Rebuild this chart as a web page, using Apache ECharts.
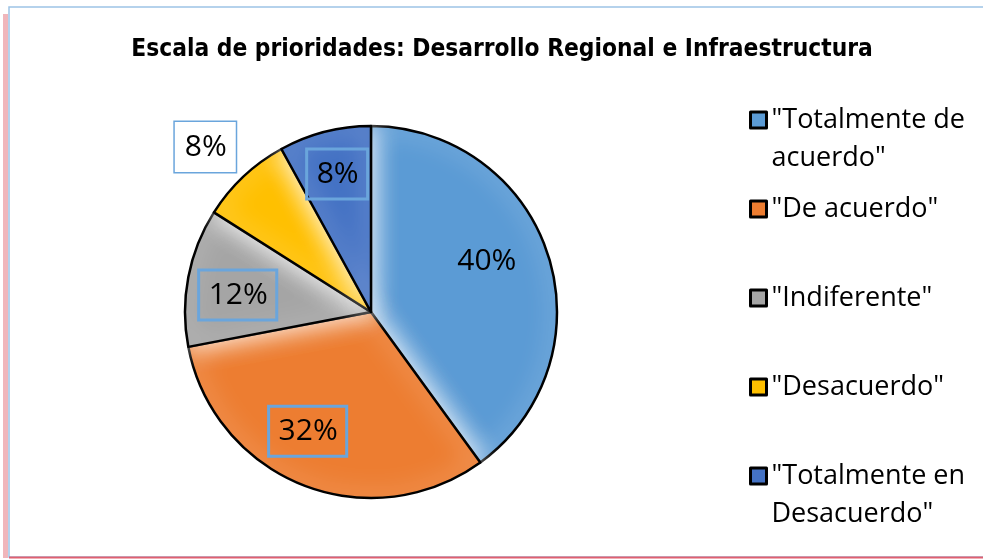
<!DOCTYPE html>
<html><head><meta charset="utf-8">
<script src="https://cdn.jsdelivr.net/npm/echarts@6/dist/echarts.min.js"></script>
<style>html,body{margin:0;padding:0;background:#fff}#c{width:983px;height:559px}</style>
</head><body><div id="c"></div>
<script>
const titleText = 'Escala de prioridades: Desarrollo Regional e Infraestructura';
const categories = ['"Totalmente de acuerdo"', '"De acuerdo"', '"Indiferente"', '"Desacuerdo"', '"Totalmente en Desacuerdo"'];
const legendLines = [['"Totalmente de', 'acuerdo"'], ['"De acuerdo"'], ['"Indiferente"'], ['"Desacuerdo"'], ['"Totalmente en', 'Desacuerdo"']];
const values = [40, 32, 12, 8, 8];
const colors = ['#5B9BD5', '#ED7D31', '#A5A5A5', '#FFC000', '#4472C4'];

// label presentation (layout only)
const labelOffsets = [[24, -21], [-28, 30], [-39, 1], [-100, -95], [-10, -45]];
const labelBoxed = [false, true, true, true, true];
const labelBg = [null, null, null, '#ffffff', null];

const chart = echarts.init(document.getElementById('c'));
const data = categories.map((name, i) => ({
  name: name,
  value: values[i],
  itemStyle: { color: colors[i] },
  label: {
    offset: labelOffsets[i],
    borderColor: labelBoxed[i] ? '#6AA5DC' : 'transparent',
    borderWidth: labelBoxed[i] ? 1.5 : 0,
    backgroundColor: labelBg[i] || 'transparent',
    padding: [10, 9, 10, 10]
  }
}));
const legendMap = {};
categories.forEach((c, i) => {
  const l = legendLines[i];
  legendMap[c] = l.length === 2 ? ' \n' + l[0] + '\n' + l[1] : ' \n' + l[0] + '\n ';
});

chart.setOption({
  backgroundColor: '#ffffff',
  animation: false,
  title: {
    text: titleText,
    left: 497, top: 33, textAlign: 'center',
    textStyle: { fontFamily: 'Liberation Sans Narrow, DejaVu Sans Condensed, sans-serif', fontWeight: 'bold', fontSize: 24.3, color: '#000' }
  },
  legend: {
    orient: 'vertical',
    left: 744, top: 58,
    itemWidth: 16, itemHeight: 16,
    itemGap: -25,
    icon: 'rect',
    itemStyle: { borderColor: '#000', borderWidth: 3 },
    formatter: n => legendMap[n],
    textStyle: { fontFamily: 'Open Sans, Noto Sans, sans-serif', fontSize: 27, lineHeight: 38, color: '#000' },
    data: categories
  },
  graphic: [
    { type: 'rect', shape: { x: 9, y: 7, width: 1000, height: 550 }, style: { fill: 'none', stroke: '#9DC3E6', lineWidth: 1.5 }, z: -1 },
    { type: 'line', shape: { x1: 9, y1: 557.5, x2: 983, y2: 557.5 }, style: { stroke: '#E06070', lineWidth: 2 } },
    { type: 'rect', shape: { x: 3, y: 14, width: 5, height: 544 }, style: { fill: 'rgba(225,110,120,0.5)' } }
  ],
  series: [{
    type: 'pie',
    center: [371, 312],
    radius: [0, 186],
    startAngle: 90,
    clockwise: true,
    avoidLabelOverlap: false,
    labelLine: { show: false },
    itemStyle: { borderColor: '#000', borderWidth: 2.5, shadowColor: '#ffffff', shadowBlur: 26 },
    emphasis: { disabled: true },
    label: {
      show: true,
      position: 'inside',
      formatter: '{d}%',
      fontFamily: 'Open Sans, Noto Sans, sans-serif',
      fontSize: 30,
      color: '#000'
    },
    data: data
  }]
});
</script></body></html>
